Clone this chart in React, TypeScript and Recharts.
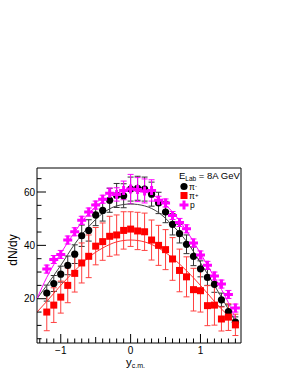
import React from "react";
import {
  ComposedChart,
  Scatter,
  Line,
  XAxis,
  YAxis,
  ErrorBar,
  ReferenceArea,
} from "recharts";

// rapidity bins
const rapidity = [
  -1.2, -1.1, -1.0, -0.9, -0.8, -0.7, -0.6, -0.5, -0.4, -0.3, -0.2, -0.1, 0.0, 0.1,
  0.2, 0.3, 0.4, 0.5, 0.6, 0.7, 0.8, 0.9, 1.0, 1.1, 1.2, 1.3, 1.4, 1.5,
];

const piMinus = [
  22.1, 25.7, 29.2, 32.5, 36.7, 43.6, 45.6, 51.4, 53.1, 56.9, 58.7, 58.6, 61.1, 61.4,
  61.1, 59.2, 55.9, 52.5, 47.9, 44.4, 40.4, 35.9, 31.2, 28.0, 25.4, 19.6, 15.2, 11.2,
];
const piMinusErr = [
  3, 3, 3, 3.5, 3.5, 4, 4, 4, 4, 4.5, 4.5, 4.5, 4.5, 4.5,
  4.5, 4.5, 4, 4, 4, 3.5, 3.5, 3.5, 3, 3, 3, 2.5, 2.5, 2,
];

const piPlus = [
  15.0, 17.6, 20.6, 25.0, 29.5, 33.4, 35.9, 39.7, 41.4, 43.4, 43.9, 45.6, 46.1, 45.4,
  45.1, 42.0, 40.0, 38.4, 34.9, 30.6, 28.2, 23.4, 23.0, 17.4, 17.6, 12.4, 13.1, 10.2,
];
const piPlusErr = [
  7, 6.5, 6, 6.5, 7, 7.5, 8, 7, 7, 7.5, 7.5, 7, 6.5, 7,
  7, 7.5, 7.5, 7.5, 8, 8, 7.5, 8, 8, 7.5, 7.5, 4.5, 5, 4,
];

const proton = [
  31.1, 34.7, 36.6, 42.0, 45.1, 49.4, 52.5, 55.1, 57.3, 59.5, 59.1, 60.6, 61.1, 60.9,
  60.4, 60.6, 56.9, 55.9, 51.2, 48.6, 46.2, 40.9, 36.4, 32.5, 28.5, 25.5, 21.6, 16.5,
];
const protonErr = [
  1.5, 1.5, 1.5, 1.5, 1.5, 1.5, 1.5, 1.5, 1.5, 2, 2.5, 3.5, 5.5, 4.5,
  4.5, 4, 1.5, 1.5, 1.5, 1.5, 1.5, 1.5, 1.5, 1.5, 1.5, 1.5, 1.5, 1.5,
];

// fit curves
const fitX = [-1.34, -1.2, -1.0, -0.8, -0.6, -0.4, -0.2, 0.0, 0.2, 0.4, 0.6, 0.8, 1.0, 1.2, 1.4, 1.5];
const fitPiMinus = [20, 25, 32.5, 40.5, 47, 52, 54.8, 55.5, 54.8, 52.3, 47.5, 41.5, 33.5, 25, 16, 11.5];
const fitPiPlus = [15, 19, 25, 30.5, 35.5, 39, 41.3, 42, 41.3, 39, 35.3, 30.5, 25, 19, 13.5, 11];
const fitProton = [20, 28, 37, 45, 52, 56.5, 59.5, 60.5, 60, 57.5, 52.5, 45.5, 37, 28, 18.5, 12.5];

const yTicks = [5, 10, 15, 20, 25, 30, 35, 40, 45, 50, 55, 60, 65];
const yLabels = [20, 40, 60];
const xTicks = [
  -1.3, -1.2, -1.1, -1.0, -0.9, -0.8, -0.7, -0.6, -0.5, -0.4, -0.3, -0.2, -0.1, 0.0,
  0.1, 0.2, 0.3, 0.4, 0.5, 0.6, 0.7, 0.8, 0.9, 1.0, 1.1, 1.2, 1.3, 1.4, 1.5,
];
const xLabels = [-1, 0, 1];
const xMid = [-0.5, 0.5];

const xDomain: [number, number] = [-1.34, 1.58];
const yDomain: [number, number] = [3.4, 69];

const FONT = "'Liberation Sans', Arial, sans-serif";

const toPoints = (ys: number[], errs: number[]) =>
  rapidity.map((x, i) => ({ x, y: ys[i], e: errs[i] }));
const toCurve = (ys: number[]) => fitX.map((x, i) => ({ x, y: ys[i] }));

const Dot = ({ cx, cy }: any) => <circle cx={cx} cy={cy} r={3.6} fill="#000" />;
const Square = ({ cx, cy }: any) => (
  <rect x={cx - 3.5} y={cy - 3.5} width={7} height={7} fill="#ff0000" />
);
const Plus = ({ cx, cy }: any) => (
  <path
    d={`M${cx - 1.5},${cy - 4.5}h3v3h3v3h-3v3h-3v-3h-3v-3h3z`}
    fill="#ff00ff"
  />
);

const YTick = ({ x, y, payload }: any) => {
  const v = payload.value;
  const major = yLabels.includes(v);
  return (
    <g>
      <line x1={x} x2={x + (major ? 9 : 4.5)} y1={y} y2={y} stroke="#000" />
      {major && (
        <text x={x - 2} y={y} dy={3.5} textAnchor="end" fontSize={10} fontFamily={FONT}>
          {v}
        </text>
      )}
    </g>
  );
};

const XTick = ({ x, y, payload }: any) => {
  const v = Math.round(payload.value * 10) / 10;
  const major = xLabels.includes(v);
  const len = major ? 9 : xMid.includes(v) ? 6 : 4.5;
  return (
    <g>
      <line x1={x} x2={x} y1={y} y2={y - len} stroke="#000" />
      {major && (
        <text x={x} y={y + 11} textAnchor="middle" fontSize={10} fontFamily={FONT}>
          {v === -1 ? "\u22121" : v}
        </text>
      )}
    </g>
  );
};

export default function App() {
  return (
    <div style={{ position: "absolute", left: 0, top: 0, width: 289, height: 374, background: "#fff" }}>
      <ComposedChart
        width={289}
        height={374}
        margin={{ top: 168, right: 48, left: 0, bottom: 0 }}
      >
        <XAxis
          dataKey="x"
          type="number"
          domain={xDomain}
          ticks={xTicks}
          allowDataOverflow
          tickSize={0}
          tickMargin={0}
          tickLine={false}
          axisLine={false}
          tick={<XTick />}
          interval={0}
          height={31}
        />
        <YAxis
          dataKey="y"
          type="number"
          domain={yDomain}
          ticks={yTicks}
          allowDataOverflow
          tickSize={0}
          tickMargin={0}
          tickLine={false}
          axisLine={false}
          tick={<YTick />}
          interval={0}
          width={37}
        />
        <ReferenceArea
          x1={xDomain[0]}
          x2={xDomain[1]}
          y1={yDomain[0]}
          y2={yDomain[1]}
          fill="none"
          stroke="#000"
          strokeWidth={1}
        />
        <Scatter data={toPoints(piMinus, piMinusErr)} shape={<Dot />} isAnimationActive={false}>
          <ErrorBar dataKey="e" direction="y" width={3} stroke="#333" strokeWidth={1} />
        </Scatter>
        <Scatter data={toPoints(piPlus, piPlusErr)} shape={<Square />} isAnimationActive={false}>
          <ErrorBar dataKey="e" direction="y" width={3} stroke="#ff4040" strokeWidth={1} />
        </Scatter>
        <Scatter data={toPoints(proton, protonErr)} shape={<Plus />} isAnimationActive={false}>
          <ErrorBar dataKey="e" direction="y" width={3} stroke="#ff00ff" strokeWidth={1} />
        </Scatter>
        <Line data={toCurve(fitPiMinus)} dataKey="y" type="monotone" stroke="#444" strokeWidth={1} dot={false} isAnimationActive={false} />
        <Line data={toCurve(fitPiPlus)} dataKey="y" type="monotone" stroke="#ff3030" strokeWidth={1} dot={false} isAnimationActive={false} />
        <Line data={toCurve(fitProton)} dataKey="y" type="monotone" stroke="#ff00ff" strokeWidth={1} dot={false} isAnimationActive={false} />
      </ComposedChart>
      <svg
        width={289}
        height={374}
        style={{ position: "absolute", left: 0, top: 0, pointerEvents: "none" }}
        fontFamily={FONT}
      >
        <text x={17} y={250} fontSize={12} textAnchor="middle" transform="rotate(-90,17,250)">
          dN/dy
        </text>
        <text x={126} y={366} fontSize={11.5}>
          y
          <tspan fontSize={7} dy={2}>c.m.</tspan>
        </text>
        <text x={179} y={179} fontSize={9.5}>
          E<tspan fontSize={6.5} dy={2}>Lab</tspan>
          <tspan dy={-2}> = 8A GeV</tspan>
        </text>
        <circle cx={184} cy={186.5} r={3.6} fill="#000" />
        <text x={189} y={190} fontSize={8.5}>
          π<tspan fontSize={6} dy={-2.5}>-</tspan>
        </text>
        <rect x={180.5} y={192} width={7} height={7} fill="#ff0000" />
        <text x={189} y={199} fontSize={8.5}>
          π<tspan fontSize={6} dy={-2.5}>+</tspan>
        </text>
        <path d="M182.5,200.5h3v3h3v3h-3v3h-3v-3h-3v-3h3z" fill="#ff00ff" />
        <text x={190} y={208} fontSize={8.5}>
          p
        </text>
      </svg>
    </div>
  );
}
